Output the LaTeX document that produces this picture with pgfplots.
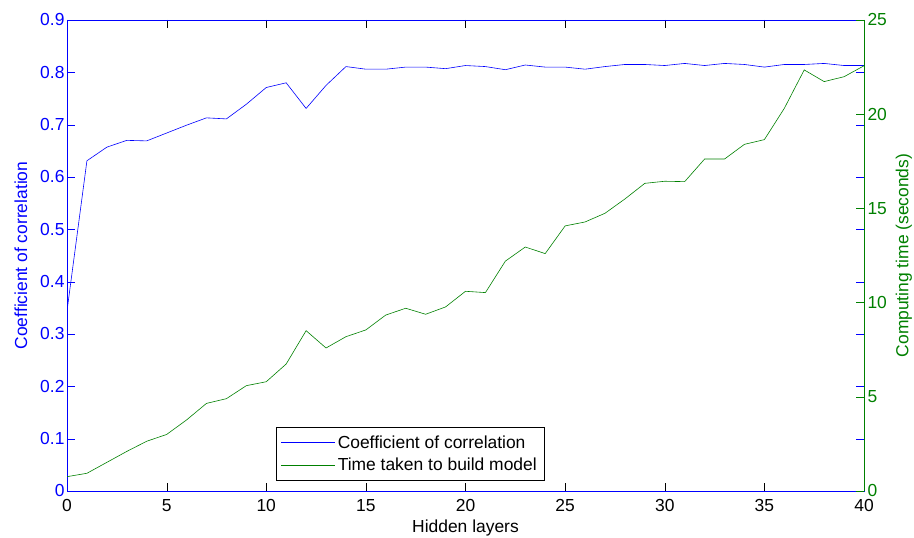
\documentclass[border=0pt]{standalone}
\usepackage{fontspec}
\setmainfont{Liberation Sans}
\usepackage{pgfplots}
\pgfplotsset{compat=1.18}
\definecolor{mgreen}{rgb}{0,0.5,0}
\definecolor{mblue}{rgb}{0,0,1}
\begin{document}
\begin{tikzpicture}
\pgfplotsset{every axis/.append style={
  scale only axis, width=797bp, height=471bp,
  xmin=0, xmax=40,
  font=\fontsize{17.5}{20}\selectfont,
  /pgf/number format/assume math mode=true,
  major tick length=8bp,
  tick align=inside,
}}
\begin{axis}[
  name=ax,
  axis x line=box, axis y line=box,
  ymin=0, ymax=0.9,
  xtick={0,5,...,40},
  ytick={0,0.1,...,0.9},
  yticklabel style={mblue, /pgf/number format/fixed, /pgf/number format/precision=1, xshift=1bp},
  xticklabel style={yshift=-5bp},
  y axis line style={mblue, -},
  x axis line style={black, -},
  ytick style={mblue},
  xtick style={black},
  ylabel={Coefficient of correlation},
  ylabel style={mblue, at={(ticklabel cs:0.5,6bp)}},
  xlabel={Hidden layers},
  xlabel style={yshift=-1bp},
]
\addplot[mblue, line width=0.6pt] coordinates {
(0,0.344) (1,0.631) (2,0.657) (3,0.670) (4,0.669) (5,0.684) (6,0.699) (7,0.713) (8,0.711) (9,0.739) (10,0.771)
(11,0.780) (12,0.731) (13,0.775) (14,0.811) (15,0.806) (16,0.806) (17,0.810) (18,0.810) (19,0.807) (20,0.813)
(21,0.811) (22,0.805) (23,0.814) (24,0.810) (25,0.810) (26,0.806) (27,0.811) (28,0.815) (29,0.815) (30,0.813)
(31,0.817) (32,0.813) (33,0.817) (34,0.815) (35,0.810) (36,0.815) (37,0.815) (38,0.817) (39,0.813) (40,0.813)
};
\end{axis}
\begin{axis}[
  axis x line=none,
  axis y line*=right,
  ymin=0, ymax=25,
  ytick={0,5,...,25},
  y axis line style={mgreen, -},
  ytick style={mgreen},
  yticklabel style={mgreen},
  ylabel={Computing time (seconds)},
  ylabel style={mgreen, at={(ticklabel cs:0.5,2bp)}},
  legend style={at={(0.2622,0.0222)}, anchor=south west,
    font=\fontsize{17.5}{20}\selectfont, row sep=4.5bp, inner xsep=5bp, inner ysep=6bp},
  legend cell align=left,
  legend image code/.code={\draw[line width=0.6pt,#1] (0bp,0bp) -- (54bp,0bp);},
]
\addlegendimage{mblue}
\addlegendentry{Coefficient of correlation}
\addplot[mgreen, line width=0.6pt] coordinates {
(0,0.76) (1,0.94) (2,1.52) (3,2.10) (4,2.64) (5,3.00) (6,3.77) (7,4.65) (8,4.90) (9,5.59) (10,5.80)
(11,6.74) (12,8.51) (13,7.59) (14,8.19) (15,8.55) (16,9.34) (17,9.70) (18,9.38) (19,9.77) (20,10.60)
(21,10.53) (22,12.20) (23,12.95) (24,12.60) (25,14.07) (26,14.28) (27,14.74) (28,15.50) (29,16.33) (30,16.44)
(31,16.42) (32,17.62) (33,17.62) (34,18.40) (35,18.65) (36,20.31) (37,22.35) (38,21.73) (39,21.99) (40,22.57)
};
\addlegendentry{Time taken to build model}
\end{axis}
\pgfresetboundingbox
\path ([shift={(-67bp,-47bp)}]ax.south west) rectangle ([shift={(50bp,20bp)}]ax.north east);
\end{tikzpicture}
\end{document}
